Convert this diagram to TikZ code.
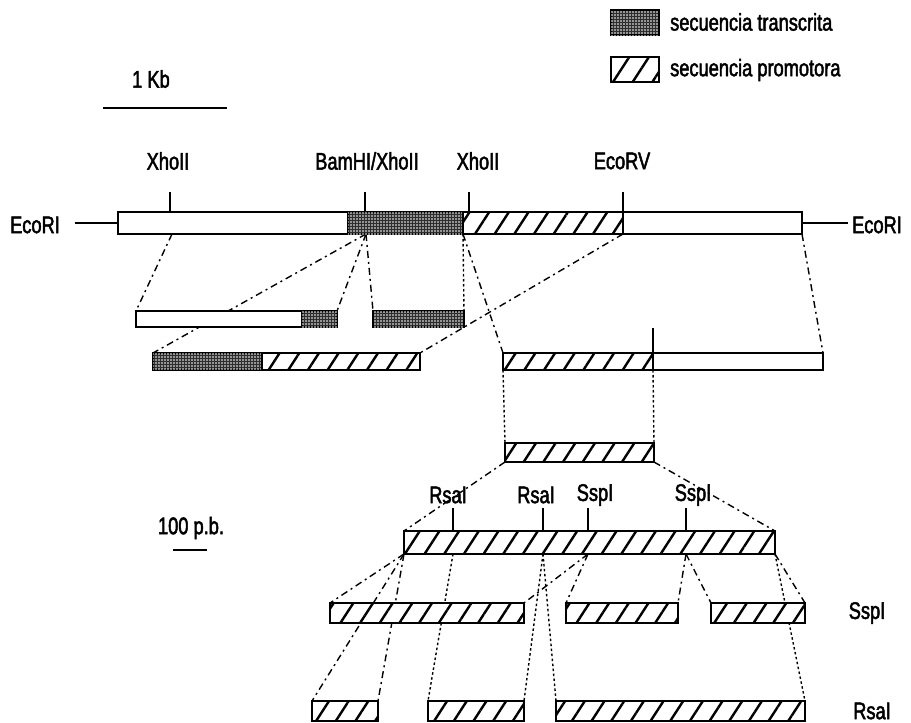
\documentclass[tikz,border=0pt]{standalone}
\usepackage{fontspec}
\setmainfont[FakeStretch=0.76,FakeBold=2]{Liberation Sans}
\usetikzlibrary{patterns.meta}
\pgfdeclarelayer{bg}
\pgfsetlayers{bg,main}
\newcommand\segbox[6]{\node[seg,#2,minimum width=#5pt,minimum height=#6pt] (#1) at (#3,#4) {};}
\begin{document}
\begin{tikzpicture}[x=1pt,y=-1pt,
  seg/.style={draw, line width=1.8pt, inner sep=0pt, outer sep=0pt, anchor=north west},
  plain/.style={fill=white},
  promo/.style={preaction={fill=white}, pattern={Lines[angle=57,distance=16.5pt,line width=2.4pt]}},
  trans/.style={fill=black!82, postaction={pattern={Dots[distance=3pt,radius=0.8pt]}, pattern color=white}},
  tick/.style={line width=1.8pt},
  cut/.style={line width=1.4pt, dash pattern=on 7pt off 4pt on 2pt off 4pt},
  dotc/.style={line width=1.4pt, dash pattern=on 2.5pt off 2.5pt},
  lab/.style={font=\fontsize{24}{28}\selectfont, inner sep=0pt}
]
\useasboundingbox (0,0) rectangle (911,723);

% legend
\segbox{L1}{trans}{611}{10}{48}{25}
\segbox{L2}{promo}{611}{57}{48}{25}
\node[lab, anchor=west] (lt1) at (670,22) {secuencia transcrita};
\node[lab, anchor=west] (lt2) at (670,70) {secuencia promotora};

% 1 Kb scale
\node[lab] (kb) at (151,79) {1 Kb};
\coordinate (kbA) at (103,108);
\coordinate (kbB) at (227,108);
\draw[line width=1.3pt] (kbA) -- (kbB);

% top bar
\segbox{t1}{plain}{118}{212}{230}{22}
\segbox{t2}{trans}{348}{212}{115}{22}
\segbox{t3}{promo}{463}{212}{160}{22}
\segbox{t4}{plain}{623}{212}{179}{22}
\coordinate (eL) at (75,223);
\coordinate (eR) at (848,223);
\draw[line width=1.2pt] (eL) -- (t1.west);
\draw[line width=1.2pt] (t4.east) -- (eR);
\node[lab] (lEcoL) at (35,225) {EcoRI};
\node[lab] (lEcoR) at (877,225) {EcoRI};
\coordinate (k1) at (170,192);
\coordinate (k2) at (365,192);
\coordinate (k3) at (469,192);
\coordinate (k4) at (623,192);
\foreach \k in {k1,k2,k3,k4} \draw[tick] (\k) -- (\k |- t1.north);
\node[lab] (lX1) at (168,161) {XhoII};
\node[lab] (lBam) at (367,161) {BamHI/XhoII};
\node[lab] (lX2) at (478,161) {XhoII};
\node[lab] (lRV) at (622,161) {EcoRV};
\coordinate (pX1) at (172,234);
\coordinate (pBam) at (366,234);
\coordinate (pX2) at (463,234);
\coordinate (pRV) at (623,234);

% row 2
\segbox{r2a}{plain}{136}{311}{166}{16}
\segbox{r2b}{trans}{302}{311}{35}{16}
\segbox{r2c}{trans}{373}{311}{91}{16}
% row 3
\segbox{r3a}{trans}{153}{353}{109}{17}
\segbox{r3b}{promo}{262}{353}{158}{17}
\segbox{r3c}{promo}{503}{353}{150}{17}
\segbox{r3d}{plain}{653}{353}{170}{17}
\coordinate (k5) at (653,328);
\draw[tick] (k5) -- (r3c.north east);
% row 4
\segbox{r4}{promo}{505}{443}{149}{19}
% row 5
\segbox{r5}{promo}{404}{531}{371}{23}
\coordinate (q1) at (453,508);
\coordinate (q2) at (543,508);
\coordinate (q3) at (588,508);
\coordinate (q4) at (686,508);
\foreach \k in {q1,q2,q3,q4} \draw[tick] (\k) -- (\k |- r5.north);
\node[lab] (lR1) at (448,495) {RsaI};
\node[lab] (lR2) at (536,495) {RsaI};
\node[lab] (lS1) at (595,495) {SspI};
\node[lab] (lS2) at (693,495) {SspI};
\coordinate (pR1) at (453,554);
\coordinate (pR2) at (543,554);
\coordinate (pS1) at (588,554);
\coordinate (pS2) at (686,554);
% 100 pb scale
\node[lab] (pb) at (191,528) {100 p.b.};
\coordinate (pbA) at (173,550);
\coordinate (pbB) at (207,550);
\draw[line width=1.3pt] (pbA) -- (pbB);
% row 6
\segbox{A}{promo}{330}{603}{194}{20}
\segbox{B}{promo}{566}{603}{112}{20}
\segbox{C}{promo}{711}{603}{94}{20}
\node[lab] (lSsp) at (867,613) {SspI};
% row 7
\segbox{D}{promo}{312}{701}{66}{20}
\segbox{E}{promo}{428}{701}{96}{20}
\segbox{F}{promo}{556}{701}{249}{20}
\node[lab] (lRsa) at (872,711) {RsaI};

\begin{pgfonlayer}{bg}
\fill[white] (0,0) rectangle (911,723);
\draw[cut] (pX1) -- (r2a.north west);
\draw[cut] (pBam) -- (r3a.north west);
\draw[cut] (pBam) -- (r2b.north east);
\draw[cut] (pBam) -- (r2c.north west);
\draw[dotc] (pX2) -- (r2c.north east);
\draw[cut] (pX2) -- (r3c.north west);
\draw[cut] (pRV) -- (r3b.north east);
\draw[cut] (t4.south east) -- (r3d.north east);
\draw[dotc] (r3c.south west) -- (r4.north west);
\draw[dotc] (r3c.south east) -- (r4.north east);
\draw[cut] (r4.south west) -- (r5.north west);
\draw[cut] (r4.south east) -- (r5.north east);
\draw[cut] (r5.south west) -- (A.north west);
\draw[cut] (r5.south west) -- (D.north west);
\draw[cut] (r5.south west) -- (D.north east);
\draw[dotc] (pR1) -- (E.north west);
\draw[cut] (pS1) -- (A.north east);
\draw[cut] (pS1) -- (B.north west);
\draw[dotc] (pR2) -- (E.north east);
\draw[dotc] (pR2) -- (F.north west);
\draw[cut] (pS2) -- (B.north east);
\draw[cut] (pS2) -- (C.north west);
\draw[cut] (r5.south east) -- (C.north east);
\draw[dotc] (r5.south east) -- (F.north east);
\end{pgfonlayer}
\end{tikzpicture}
\end{document}
